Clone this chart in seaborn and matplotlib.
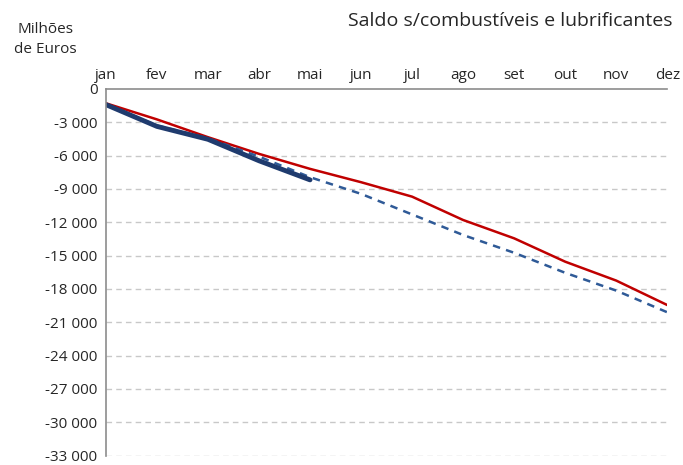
import pandas as pd
import seaborn as sns
import matplotlib.pyplot as plt

months = ["jan", "fev", "mar", "abr", "mai", "jun", "jul", "ago", "set", "out", "nov", "dez"]
red_vals = [-1300, -2750, -4350, -5850, -7200, -8400, -9700, -11800, -13450, -15550, -17250, -19450]
dashed_vals = [-1400, -3300, -4450, -6100, -7950, -9450, -11300, -13150, -14750, -16550, -18150, -20100]
thick_vals = [-1420, -3380, -4540, -6470, -8190]

yticks = list(range(0, -33001, -3000))

sns.set_style("white")
plt.rcParams['font.family'] = ['Open Sans', 'DejaVu Sans']

df_red = pd.DataFrame({"x": range(len(months)), "y": red_vals})
df_dash = pd.DataFrame({"x": range(len(months)), "y": dashed_vals})
df_thick = pd.DataFrame({"x": range(len(thick_vals)), "y": thick_vals})

fig = plt.figure(figsize=(6.83, 4.65), dpi=100)
ax = fig.add_axes([0.155, 0.02, 0.822, 0.789])

sns.lineplot(data=df_red, x="x", y="y", ax=ax, color="#C00000", linewidth=1.8)
sns.lineplot(data=df_dash, x="x", y="y", ax=ax, color="#2F5A97", linewidth=1.8,
             linestyle=(0, (3, 2.5)))
sns.lineplot(data=df_thick, x="x", y="y", ax=ax, color="#1F3B6E", linewidth=3.5)

ax.set_xlim(0, len(months) - 1)
ax.set_ylim(-33000, 0)
ax.set_yticks(yticks)
ax.set_yticklabels([f"{v:,}".replace(",", " ") for v in yticks], fontsize=11)
ax.set_xticks(range(len(months)))
ax.set_xticklabels(months, fontsize=11)
ax.xaxis.tick_top()
ax.tick_params(axis="y", length=0, pad=6)
ax.tick_params(axis="x", length=0, pad=4)
ax.set_xlabel("")
ax.set_ylabel("")

for y in yticks[1:]:
    ax.axhline(y, color="#C8C8C8", linewidth=1, linestyle=(0, (4, 3)), zorder=0)

for s in ["right", "bottom"]:
    ax.spines[s].set_visible(False)
for s in ["left", "top"]:
    ax.spines[s].set_color("#8C8C8C")
    ax.spines[s].set_linewidth(1.2)

fig.text(0.985, 0.955, "Saldo s/combustíveis e lubrificantes", ha="right", va="center", fontsize=14)
fig.text(0.066, 0.915, "Milhões\nde Euros", ha="center", va="center", fontsize=11, linespacing=1.4)

fig.savefig("out.png", dpi=100)
